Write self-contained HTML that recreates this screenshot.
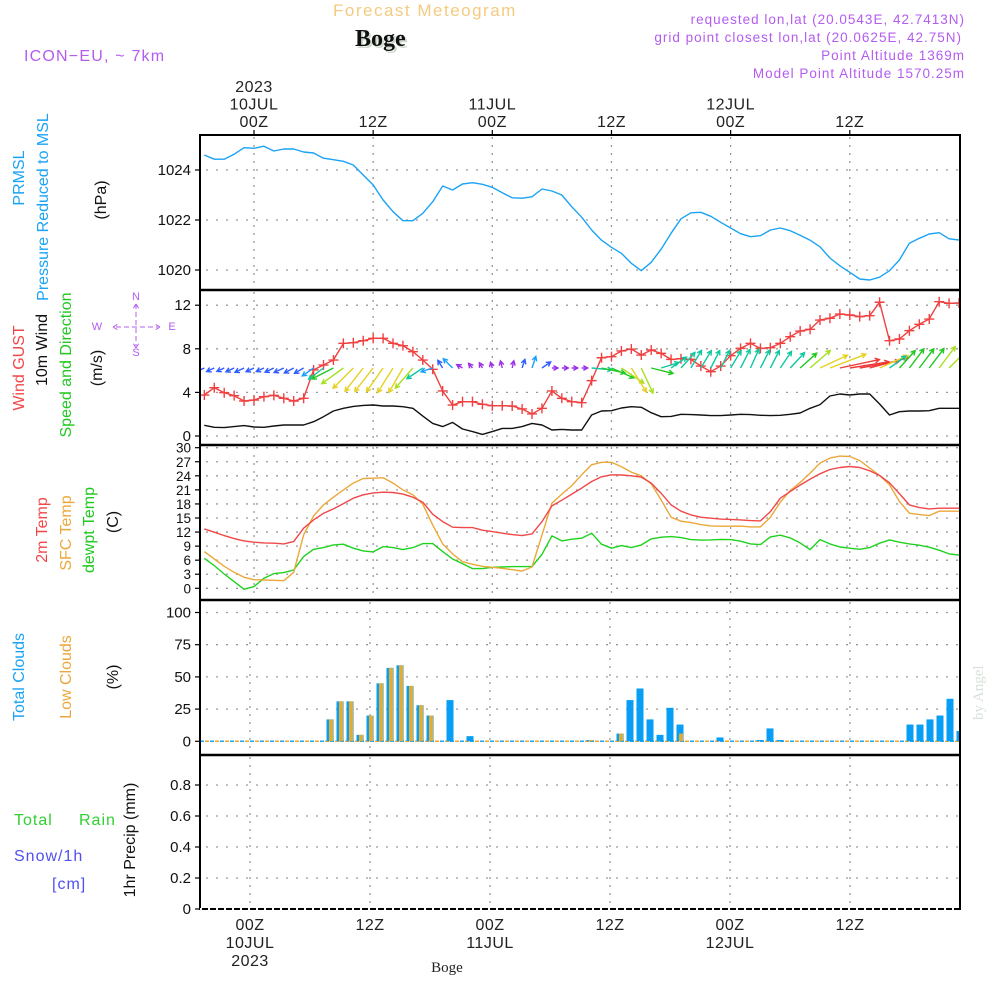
<!DOCTYPE html>
<html><head><meta charset="utf-8"><title>Forecast Meteogram Boge</title>
<style>
html,body{margin:0;padding:0;background:#fff;}
svg{display:block;font-family:"Liberation Sans",sans-serif;}
</style></head>
<body>
<svg id="chart" width="1000" height="1000" viewBox="0 0 1000 1000" xmlns="http://www.w3.org/2000/svg">
  <defs><clipPath id="plotclip"><rect x="201" y="136" width="758" height="772"/></clipPath></defs>
  <rect width="1000" height="1000" fill="#fff"/>
  <text x="333" y="16" font-size="17" fill="#f3cb80" letter-spacing="1.5">Forecast Meteogram</text>
  <text x="357" y="48" font-size="24" font-weight="bold" font-family="Liberation Serif, serif" fill="#cfdccf" >Boge</text>
  <text x="355" y="46" font-size="24" font-weight="bold" font-family="Liberation Serif, serif" fill="#111">Boge</text>
  <text x="24" y="61" font-size="16" fill="#b45cf0" letter-spacing="1.2">ICON−EU, ~ 7km</text>
  <g font-size="13.5" fill="#b45cf0" text-anchor="end" letter-spacing="1">
    <text x="965" y="24">requested lon,lat (20.0543E, 42.7413N)</text>
    <text x="962" y="42">grid point closest lon,lat (20.0625E, 42.75N)</text>
    <text x="965" y="60">Point Altitude 1369m</text>
    <text x="965" y="78">Model Point Altitude 1570.25m</text>
  </g>
  <g id="grid"></g>
  <g id="marks" clip-path="url(#plotclip)"></g>
  <g id="frame"></g>
  <g id="labels" font-size="15"></g>
  <text transform="translate(983,720) rotate(-90)" font-size="15" font-family="Liberation Serif, serif" fill="#d8e0d8">by Angel</text>
  <text x="447" y="972" font-size="15" font-family="Liberation Serif, serif" fill="#222" text-anchor="middle">Boge</text>
</svg>
<script>
// ---- data (hourly, hours -5..71 from 10JUL 00Z) ----
const pressure = [1024.6,1024.43,1024.43,1024.63,1024.89,1024.87,1024.95,1024.76,1024.84,1024.84,1024.72,1024.68,1024.47,1024.41,1024.35,1024.2,1023.8,1023.4,1022.8,1022.33,1021.97,1021.97,1022.27,1022.73,1023.36,1023.2,1023.44,1023.49,1023.43,1023.31,1023.09,1022.89,1022.87,1022.93,1023.24,1023.16,1023.0,1022.53,1022.11,1021.6,1021.19,1020.91,1020.67,1020.27,1019.97,1020.31,1020.83,1021.47,1022.05,1022.29,1022.31,1022.15,1021.91,1021.68,1021.45,1021.33,1021.37,1021.6,1021.68,1021.57,1021.39,1021.19,1020.93,1020.48,1020.17,1019.91,1019.64,1019.6,1019.71,1019.97,1020.4,1021.07,1021.27,1021.44,1021.49,1021.25,1021.2];
const gust = [3.76,4.43,3.97,3.70,3.21,3.30,3.61,3.73,3.46,3.21,3.46,6.06,6.51,6.97,8.50,8.56,8.74,8.96,8.96,8.50,8.29,7.74,6.97,6.12,4.13,2.84,3.15,3.15,2.91,2.78,2.78,2.75,2.48,2.02,2.54,4.13,3.46,3.15,3.06,5.08,7.18,7.28,7.80,7.98,7.43,7.89,7.58,7.03,7.09,7.03,6.42,5.90,6.42,7.37,8.04,8.50,8.04,8.10,8.50,9.11,9.63,9.79,10.64,10.80,11.19,11.10,10.95,11.04,12.27,8.74,8.90,9.66,10.25,10.73,12.32,12.17,12.2];
const windSpeed = [0.98,0.80,0.77,0.86,0.95,0.83,0.80,0.92,1.01,1.01,1.01,1.31,1.77,2.29,2.54,2.72,2.81,2.84,2.75,2.75,2.69,2.54,1.83,1.16,0.86,1.25,0.64,0.40,0.15,0.40,0.70,0.70,0.86,1.16,1.01,0.55,0.61,0.55,0.55,1.93,2.29,2.32,2.57,2.69,2.63,2.14,1.77,1.80,1.99,1.96,1.93,1.87,1.87,1.93,1.99,1.96,1.90,1.87,1.90,1.99,2.11,2.54,2.88,3.67,3.85,3.76,3.85,3.85,2.94,1.93,2.23,2.29,2.29,2.32,2.54,2.54,2.54];
const windDir = [155,155,155,155,155,155,155,155,155,152,150,145,143,153,144,135,128,128,125,122,120,131,146,162,-122,-135,-150,-130,-120,-108,-104,-77,-72,-72,-35,0,0,0,0,5,12,24,34,58,65,14,-17,-35,-48,-59,-59,-63,-63,-59,-63,-66,-63,-63,-56,-47,-42,-41,-25,-21,-12,-9,-10,-15,-24,-36,-48,-53,-53,-53,-53,-45,-45];
const temp2m = [12.67,11.97,11.24,10.60,10.11,9.83,9.68,9.62,9.47,9.96,12.82,14.6,16.0,16.94,18.08,19.23,19.94,20.36,20.51,20.43,20.09,19.44,18.38,15.81,14.23,13.03,12.95,12.95,12.39,12.09,11.75,11.45,11.24,11.6,14.23,17.59,18.80,20.09,21.37,22.78,23.78,24.21,24.17,24.0,23.72,22.44,20.30,17.79,16.45,15.66,15.17,14.96,14.77,14.70,14.59,14.44,14.38,16.37,19.23,20.64,22.01,23.29,24.42,25.34,25.77,25.98,25.77,25.06,24.06,22.5,20.21,17.79,17.22,16.94,17.09,17.09,17.09];
const tempSfc = [7.82,6.26,4.70,3.42,2.35,1.84,1.77,1.71,1.62,3.42,11.39,15.45,17.79,19.44,21.0,22.44,23.42,23.5,23.57,22.44,21.0,19.94,17.95,13.53,9.47,7.33,5.68,5.13,4.70,4.49,4.27,3.97,3.70,4.55,11.39,18.16,20.09,21.92,24.21,26.35,26.88,26.88,25.92,24.79,24.0,22.29,18.87,15.17,14.32,14.02,13.59,13.31,13.25,13.25,13.28,13.1,13.1,15.17,18.38,20.86,22.56,24.57,26.71,27.78,28.21,28.12,27.26,25.64,24.06,22.07,18.53,16.03,15.73,15.51,16.45,16.45,16.45];
const dewpt = [6.41,4.84,3.06,1.42,-0.21,0.36,2.14,3.13,3.35,3.91,6.77,8.33,8.69,9.26,9.4,8.55,7.97,7.76,8.90,8.69,8.26,8.69,9.54,9.54,7.82,6.26,5.26,4.20,4.20,4.49,4.55,4.63,4.63,4.63,7.26,11.18,10.11,10.47,10.68,11.75,9.40,8.55,9.1,8.69,9.26,10.53,10.9,11.03,10.81,10.38,10.28,10.32,10.43,10.38,10.04,9.47,9.32,10.96,11.32,10.75,9.68,8.26,10.38,9.47,8.82,8.55,8.33,8.69,9.62,10.32,9.83,9.47,9.19,8.76,8.12,7.33,7.1];
const cloudHours = [8,9,10,11,12,13,14,15,16,17,18,20,22,34,37,38,39,40,41,42,43,47,51,52,53,66,67,68,69,70,71];
const cloudTotal = [17,31,31,5,20,45,57,59,43,28,20,32,4,1,6,32,41,17,5,26,13,3,1,10,1,13,13,17,20,33,8];
const cloudLow   = [17,31,31,5,20,45,57,59,43,28,20,0,0,1,6,0,0,0,0,0,6,0,0,0,0,0,0,0,0,0,0];
const precip = [];
const pressTicks = [1020,1022,1024];
const windTicks = [0,4,8,12];
const tempTicks = [0,3,6,9,12,15,18,21,24,27,30];
const cloudTicks = [0,25,50,75,100];
const precipTicks = [0,0.2,0.4,0.6,0.8];
const timeTicks = [0,12,24,36,48,60];
const topLabels = [["2023","10JUL","00Z"],["","","12Z"],["","11JUL","00Z"],["","","12Z"],["","12JUL","00Z"],["","","12Z"]];
const bottomLabels = [["00Z","10JUL","2023"],["12Z","",""],["00Z","11JUL",""],["12Z","",""],["00Z","12JUL",""],["12Z","",""]];
const firstHour = -5;

const NS = "http://www.w3.org/2000/svg";
const L = 200, R = 960;
function el(tag, attrs, parent){ const e=document.createElementNS(NS,tag); for(const k in attrs) e.setAttribute(k,attrs[k]); parent.appendChild(e); return e; }
const xU = h => 254 + 9.93*h;
const xB = h => 250 + 10*h;
const yP = v => 170 + (1024 - v)*25;
const yW = v => 436 - v*10.9;
const yT = v => 588.3 - v*4.687;
const yC = v => 741.3 - v*1.288;
const yR = v => 909 - v*155;

const grid = document.getElementById('grid');
const marks = document.getElementById('marks');
const frame = document.getElementById('frame');
const labels = document.getElementById('labels');

const panels = [[135,290,xU],[290,445,xU],[445,600,xU],[600,755,xB],[755,909,xB]];
panels.forEach((p,pi)=>{
  timeTicks.forEach(h=>{
    const ln = el('line',{x1:p[2](h),x2:p[2](h),y1:p[0]+2,y2:p[1]-1,stroke:'#999','stroke-width':1.3,'stroke-dasharray':'2 6'},grid);
    
    
  });
});
function hgrid(ticks, yf, fmt, name, fs){
  ticks.forEach(t=>{
    const y = yf(t);
    const ln = el('line',{x1:L+6,x2:R-2,y1:y,y2:y,stroke:'#999','stroke-width':1.3,'stroke-dasharray':'2 8'},grid);
    
    
    const tk = el('line',{x1:L-5,x2:L,y1:y,y2:y,stroke:'#000','stroke-width':1.2},frame);
    
    
    const tx = el('text',{x:L-9,y:y+5,'text-anchor':'end','font-size':fs||15,fill:'#111'},labels);
    tx.textContent = fmt(t);
    
    
  });
}
hgrid(pressTicks,yP,v=>v,'pressure');
hgrid(windTicks,yW,v=>v,'wind');
hgrid(tempTicks,yT,v=>v,'temp',13.5);
hgrid(cloudTicks,yC,v=>v,'cloud');
hgrid(precipTicks,yR,v=>v===0?'0':v.toFixed(1),'precip');

function line(arr, xf, yf, color, name, w){
  const pts = arr.map((v,i)=>xf(firstHour+i).toFixed(1)+','+yf(v).toFixed(1)).join(' ');
  const pl = el('polyline',{points:pts,fill:'none',stroke:color,'stroke-width':w||1.4,'stroke-linejoin':'round'},marks);
  
  
}
line(pressure,xU,yP,'#1aa3f5','pressure-line');
line(windSpeed,xU,yW,'#111','wind-speed-line');
line(gust,xU,yW,'#f04040','wind-gust-line');
gust.forEach((v,i)=>{
  const x=xU(firstHour+i), y=yW(v);
  const m = el('path',{d:`M${x-5} ${y}H${x+5}M${x} ${y-5}V${y+5}`,stroke:'#f04040','stroke-width':1.4},marks);
  
  
});
function spdColor(s){
  if(s<0.72) return '#9b30e8';
  if(s<1.1) return '#2f5cff';
  if(s<1.6) return '#1aa0ff';
  if(s<2.05) return '#10c8a0';
  if(s<2.45) return '#20c820';
  if(s<2.65) return '#a8e020';
  if(s<3.75) return '#e6d020';
  return '#f03838';
}
windSpeed.forEach((s,i)=>{
  const x=xU(firstHour+i), y=368;
  const len=Math.max(6,10.5*s), a=windDir[i]*Math.PI/180;
  const x2=x+len*Math.cos(a), y2=y+len*Math.sin(a);
  const hl=5;
  const a1=a+Math.PI-0.5, a2=a+Math.PI+0.5;
  const d=`M${x} ${y}L${x2} ${y2}M${x2+hl*Math.cos(a1)} ${y2+hl*Math.sin(a1)}L${x2} ${y2}L${x2+hl*Math.cos(a2)} ${y2+hl*Math.sin(a2)}`;
  const ar = el('path',{d:d,stroke:spdColor(s),'stroke-width':1.4,fill:'none'},marks);
  
  
});
line(dewpt,xU,yT,'#1ed21e','dewpoint-line');
line(tempSfc,xU,yT,'#eba83a','sfc-temp-line');
line(temp2m,xU,yT,'#f04848','2m-temp-line');

const cb1 = el('line',{x1:L,x2:R,y1:yC(0),y2:yC(0),stroke:'#1aa3f5','stroke-width':1.5,'stroke-dasharray':'4 6'},marks);


const cb2 = el('line',{x1:L+5,x2:R,y1:yC(0),y2:yC(0),stroke:'#e8a830','stroke-width':1.5,'stroke-dasharray':'4 6'},marks);


cloudHours.forEach((h,i)=>{
  const c=xB(h);
  if(cloudTotal[i]>0){
    const b=el('rect',{x:c-3.5,y:yC(cloudTotal[i]),width:7,height:yC(0)-yC(cloudTotal[i]),fill:'#079ff5'},marks);
    
    
  }
  if(cloudLow[i]>0){
    const b=el('rect',{x:c-1,y:yC(cloudLow[i]),width:4,height:yC(0)-yC(cloudLow[i]),fill:'#e6ac30'},marks);
    
    
  }
});
precip.forEach((v,i)=>{
  const b=el('rect',{x:xB(firstHour+i)-3.5,y:yR(v),width:7,height:yR(0)-yR(v),fill:'#20c020'},marks);
  
  
});

const fr = el('rect',{x:L,y:135,width:R-L,height:774,fill:'none',stroke:'#000','stroke-width':2},frame);


[290,445,600,755].forEach(y=>{
  const s=el('line',{x1:L,x2:R,y1:y,y2:y,stroke:'#000','stroke-width':2.5},frame);
  
  
});
const bl = el('line',{x1:L,x2:R,y1:909,y2:909,stroke:'#fff','stroke-width':2,'stroke-dasharray':'2 6'},frame);



timeTicks.forEach((h,i)=>{
  const x=xU(h);
  const t=el('line',{x1:x,x2:x,y1:130,y2:135,stroke:'#000','stroke-width':1.2},frame);
  
  
  topLabels[i].forEach((s,j)=>{
    if(!s) return;
    const tx=el('text',{x:x,y:92+j*17.5,'text-anchor':'middle',fill:'#222','font-size':16,'letter-spacing':'0.5'},labels);
    tx.textContent=s;
    
    
  });
  const xb=xB(h);
  bottomLabels[i].forEach((s,j)=>{
    if(!s) return;
    const tx=el('text',{x:xb,y:930+j*18,'text-anchor':'middle',fill:'#222','font-size':16,'letter-spacing':'0.5'},labels);
    tx.textContent=s;
    
    
  });
});

function vlabel(x,y,txt,color,name,fs){
  const t=el('text',{transform:`translate(${x},${y}) rotate(-90)`,'text-anchor':'middle',fill:color,'font-size':fs||16},labels);
  t.textContent=txt;
  
  
}
vlabel(24,178,'PRMSL','#1aa3f5','prmsl-label');
vlabel(48,207,'Pressure Reduced to MSL','#1aa3f5','pressure-title');
vlabel(106,200,'(hPa)','#111','pressure-unit');
vlabel(24,368,'Wind GUST','#f04848','wind-gust-title');
vlabel(47,350,'10m Wind','#111','wind-10m-title');
vlabel(71,365,'Speed and Direction','#20c820','wind-speed-direction-title');
vlabel(102,368,'(m/s)','#111','wind-unit');
vlabel(47,530,'2m Temp','#f04848','temp-2m-title');
vlabel(71,533,'SFC Temp','#eba83a','sfc-temp-title');
vlabel(94,530,'dewpt Temp','#20c820','dewpt-title');
vlabel(118,522,'(C)','#111','temp-unit');
vlabel(24,677,'Total Clouds','#1aa3f5','total-clouds-title');
vlabel(71,677,'Low Clouds','#eba83a','low-clouds-title');
vlabel(118,677,'(%)','#111','cloud-unit');
vlabel(135,840,'1hr Precip (mm)','#111','precip-title');
function hlabel(x,y,txt,color,name){
  const t=el('text',{x:x,y:y,fill:color,'font-size':16,'letter-spacing':'1'},labels);
  t.textContent=txt;
  
  
}
hlabel(14,825,'Total','#30d030','rain-legend-total');
hlabel(79,825,'Rain','#30d030','rain-legend');
hlabel(14,861,'Snow/1h','#5050f0','snow-legend');
hlabel(52,889,'[cm]','#5050f0','snow-unit');
const cg = el('g',{fill:'#b45cf0','font-size':11,'text-anchor':'middle'},labels);


[['N',136,300],['S',136,356],['W',97,330],['E',172,330]].forEach(c=>{
  const t=el('text',{x:c[1],y:c[2]},cg); t.textContent=c[0];
  
  
});
const cp=el('path',{d:'M136 304V346M116 327H158M113 327l5-3M113 327l5 3M160 327l-5-3M160 327l-5 3M136 304l-3 5M136 304l3 5M136 348l-3-5M136 348l3-5',stroke:'#b45cf0','stroke-width':1,'stroke-dasharray':'5 3',fill:'none'},cg);


</script>
</body></html>
